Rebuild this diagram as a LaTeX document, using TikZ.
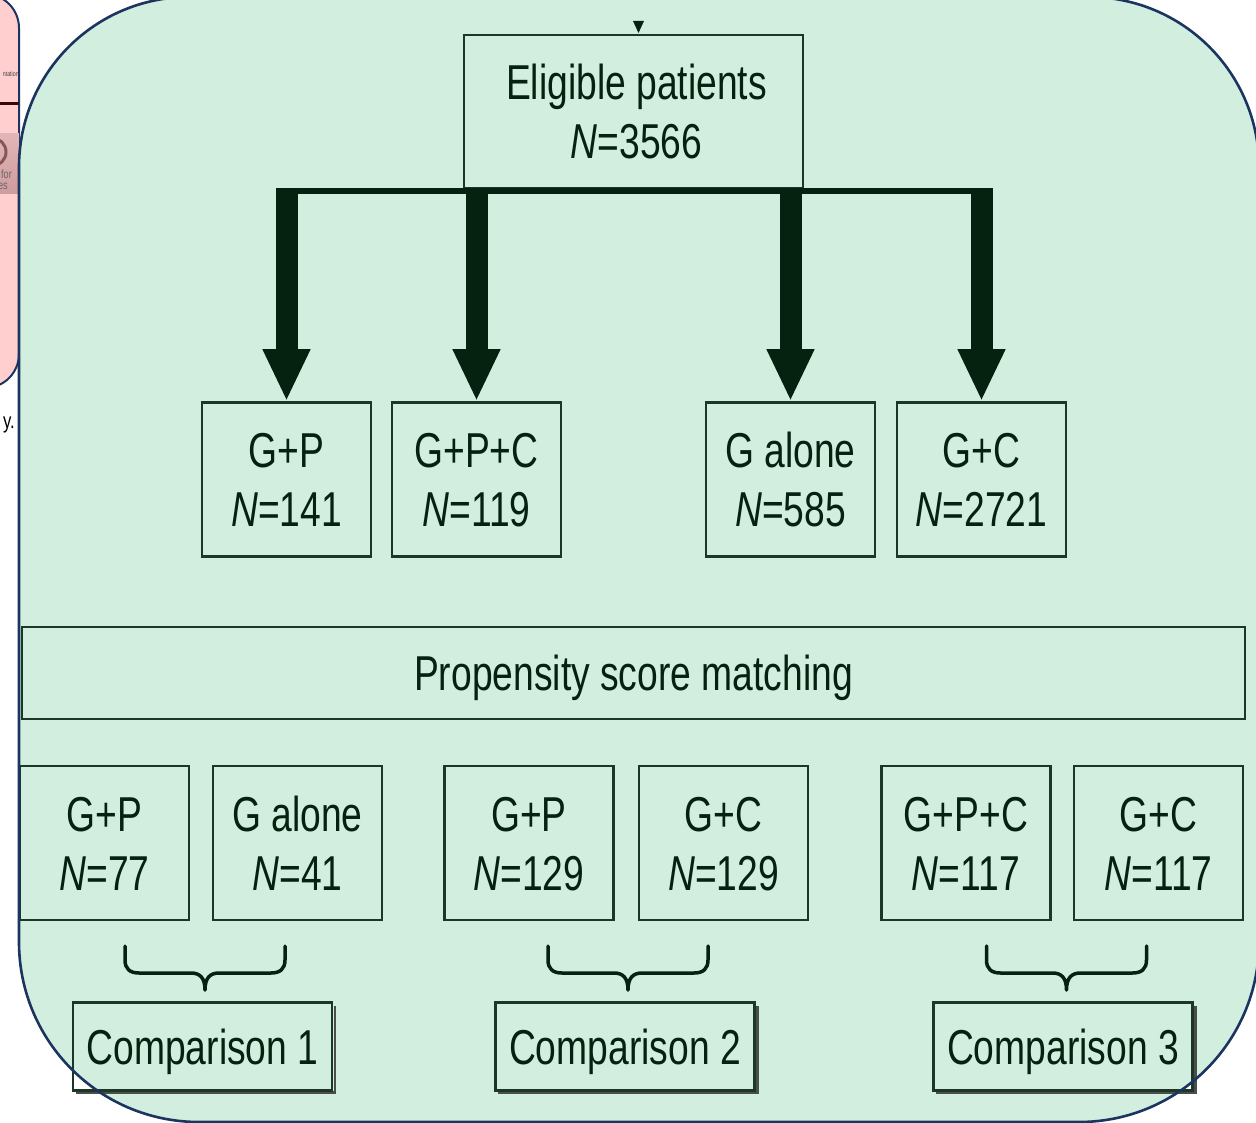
\documentclass[tikz,border=0pt]{standalone}
\usepackage{fontspec}
\setmainfont{Liberation Sans}[FakeStretch=0.76]
\usetikzlibrary{arrows.meta}
\definecolor{bgreen}{HTML}{D2EEDF}
\definecolor{navy}{HTML}{1B3460}
\definecolor{ink}{HTML}{05210F}
\definecolor{boxline}{HTML}{1C3726}
\definecolor{pinkbg}{HTML}{FFCFD0}
\definecolor{pinkdark}{HTML}{3A0808}
\definecolor{pinkbox1}{HTML}{E2B6B7}
\definecolor{pinkbox2}{HTML}{CE9C9E}
\definecolor{ringcol}{HTML}{8A5556}
\definecolor{shadowcol}{HTML}{4A4F4C}
\begin{document}
\begin{tikzpicture}[x=1pt,y=-1pt,
  flowbox/.style={draw=boxline, line width=2.6pt, inner sep=0pt, text=ink,
    font=\fontsize{49}{59}\selectfont, align=center},
  twoline/.style={flowbox, minimum width=169pt, minimum height=154pt,
    text height=94pt, text depth=0pt},
  oneline/.style={flowbox, text height=35pt, text depth=0pt},
  bigarrow/.style={draw=ink, line width=22pt, -{Triangle[width=44pt,length=52pt]}},
  barline/.style={draw=ink, line width=6pt},
  downbrace/.pic={
    \draw[ink, line width=3.5pt, line cap=round, line join=round]
      (-80,0) -- (-80,14) .. controls (-80,23) and (-75,27) .. (-66,27)
      -- (-14,27) .. controls (-5,27) and (0,32) .. (0,44)
      .. controls (0,32) and (5,27) .. (14,27)
      -- (66,27) .. controls (75,27) and (80,23) .. (80,14) -- (80,0);
  },
]
\useasboundingbox (0,0) rectangle (1256,1123);
\clip (0,0) rectangle (1256,1123);

% neighbouring page fragment (left)
\draw[navy, line width=2pt, fill=pinkbg, rounded corners=34pt] (-120,-6) rectangle (19,388);
\node[anchor=base east, inner sep=0pt, text=black!75, font=\fontsize{7}{8}\selectfont] (frag1) at (19,77) {ntation};
\fill[pinkdark] (-5,102.5) rectangle (19,105.5);
\draw[ringcol!70, line width=0.8pt] (-5,133) -- (19,133);
\shade[top color=pinkbox1, bottom color=pinkbox2] (-5,134) rectangle (19,194);
\draw[ringcol, line width=3pt] (-8,152) circle (14pt);
\node[anchor=base east, inner sep=0pt, text=black!60, font=\fontsize{12}{12}\selectfont] (frag2) at (12,179) {for};
\node[anchor=base east, inner sep=0pt, text=black!60, font=\fontsize{12}{12}\selectfont] (frag3) at (8,190) {es};
\node[anchor=base east, inner sep=0pt, text=black, font=\fontsize{22}{24}\selectfont] (frag4) at (15,428) {y.};

% green panel
\fill[bgreen] (19,500) -- (19,167) arc[start angle=180, end angle=90, radius=170pt]
  -- (1089,-3) arc[start angle=90, end angle=0, radius=170pt]
  -- (1259,942) arc[start angle=0, end angle=-90, radius=180pt]
  -- (199,1122) arc[start angle=-90, end angle=-180, radius=180pt] -- cycle;

% top box
\node[flowbox, minimum width=339pt, minimum height=153pt, text height=94pt, text depth=0pt]
  (elig) at (633.5,111.5) {\hspace*{6pt}Eligible patients\\\hspace*{6pt}\textit{N}=3566};
\fill[ink] (633,21) -- (644,21) -- (638.5,33) -- cycle;

% treatment groups
\node[twoline] (gp)     at (286.5,479.5) {G+P\\\textit{N}=141};
\node[twoline] (gpc)    at (476.5,479.5) {G+P+C\\\textit{N}=119};
\node[twoline] (galone) at (790.5,479.5) {G alone\\\textit{N}=585};
\node[twoline] (gc)     at (981.5,479.5) {G+C\\\textit{N}=2721};

% distribution bar and arrows
\coordinate (bartop) at (0,188);
\coordinate (barmid) at (0,191);
\draw[barline] ([xshift=-11pt]gp.north |- barmid) -- ([xshift=11pt]gc.north |- barmid);
\draw[bigarrow] (gp.north |- bartop) -- (gp.north);
\draw[bigarrow] (gpc.north |- bartop) -- (gpc.north);
\draw[bigarrow] (galone.north |- bartop) -- (galone.north);
\draw[bigarrow] (gc.north |- bartop) -- (gc.north);

% propensity score matching
\node[oneline, minimum width=1223pt, minimum height=92pt] (psm) at (633.5,673) {Propensity score matching};

% matched groups
\node[twoline] (c1a) at (104.5,843) {G+P\\\textit{N}=77};
\node[twoline] (c1b) at (297.5,843) {G alone\\\textit{N}=41};
\node[twoline] (c2a) at (529,843)   {G+P\\\textit{N}=129};
\node[twoline] (c2b) at (723.5,843) {G+C\\\textit{N}=129};
\node[twoline] (c3a) at (966,843)   {G+P+C\\\textit{N}=117};
\node[twoline] (c3b) at (1158.5,843) {G+C\\\textit{N}=117};

% braces
\pic (br1) at (205,946) {downbrace};
\pic (br2) at (628,946) {downbrace};
\pic (br3) at (1066.5,946) {downbrace};

% comparisons (with a slight drop shadow)
\foreach \cx/\nm/\lab in {202.5/cmp1/Comparison 1, 625/cmp2/Comparison 2, 1063/cmp3/Comparison 3}{
  \draw[shadowcol, line width=2.2pt] (\cx-127,1092.5) -- (\cx+132.5,1092.5) -- (\cx+132.5,1006);
  \node[oneline, minimum width=259pt, minimum height=88pt] (\nm) at (\cx,1046.5) {\lab};
}

% panel outline on top
\draw[navy, line width=2.6pt] (19,500) -- (19,167) arc[start angle=180, end angle=90, radius=170pt]
  -- (1089,-3) arc[start angle=90, end angle=0, radius=170pt]
  -- (1259,942) arc[start angle=0, end angle=-90, radius=180pt]
  -- (199,1122) arc[start angle=-90, end angle=-180, radius=180pt] -- cycle;
\end{tikzpicture}
\end{document}
